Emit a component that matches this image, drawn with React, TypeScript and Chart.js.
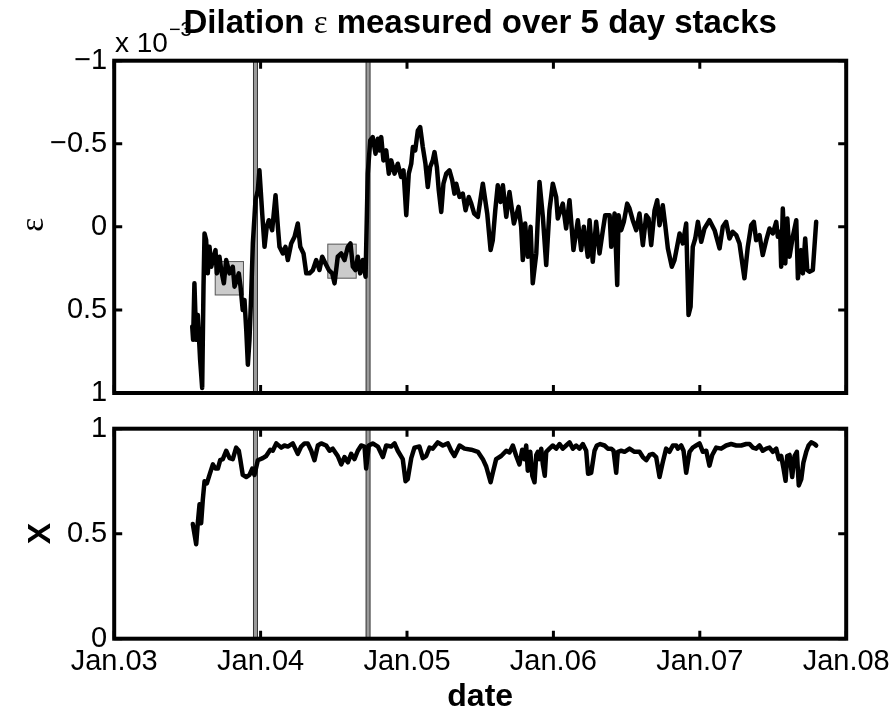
import React, { useEffect, useRef } from 'react';
import { Chart, registerables } from 'chart.js';

Chart.register(...registerables);

const FONT = '"Liberation Sans", Arial, Helvetica, sans-serif';
const SERIF = '"Liberation Serif", "DejaVu Serif", serif';

// ---- axis ticks ----
const yearTicks = [2003, 2004, 2005, 2006, 2007, 2008];
const yearTickLabels = ['Jan.03', 'Jan.04', 'Jan.05', 'Jan.06', 'Jan.07', 'Jan.08'];
const epsTicks = [-1, -0.5, 0, 0.5, 1];
const epsTickLabels = ['\u22121', '\u22120.5', '0', '0.5', '1'];
const xTicks = [0, 0.5, 1];
const xTickLabels = ['0', '0.5', '1'];

// ---- events (San Simeon, Parkfield) ----
const eventDates = [2003.965, 2004.734];

// ---- gray boxes in the dilation panel ----
const boxStarts = [2003.69, 2004.459];
const boxEnds = [2003.883, 2004.653];
const boxTops = [0.209, 0.104];
const boxBottoms = [0.41, 0.309];

// ---- dilation epsilon (x 10^-3) ----
const epsDates = [
  2003.533, 2003.539, 2003.548, 2003.560, 2003.571, 2003.587, 2003.601, 2003.610, 2003.617, 2003.628,
  2003.639, 2003.651, 2003.663, 2003.674, 2003.692, 2003.701, 2003.719, 2003.731, 2003.749, 2003.765,
  2003.788, 2003.810, 2003.822, 2003.837, 2003.851, 2003.863, 2003.878, 2003.890, 2003.902, 2003.913,
  2003.924, 2003.936, 2003.947, 2003.965, 2003.981, 2003.992, 2004.011, 2004.027, 2004.042, 2004.056,
  2004.079, 2004.102, 2004.118, 2004.129, 2004.152, 2004.170, 2004.186, 2004.209, 2004.232, 2004.254,
  2004.271, 2004.293, 2004.312, 2004.334, 2004.357, 2004.380, 2004.402, 2004.421, 2004.443, 2004.466,
  2004.489, 2004.505, 2004.527, 2004.551, 2004.573, 2004.596, 2004.614, 2004.630, 2004.648, 2004.664,
  2004.680, 2004.698, 2004.717, 2004.732, 2004.749, 2004.766, 2004.785, 2004.801, 2004.812, 2004.824,
  2004.839, 2004.858, 2004.876, 2004.892, 2004.915, 2004.937, 2004.960, 2004.976, 2004.995, 2005.012,
  2005.029, 2005.040, 2005.056, 2005.074, 2005.090, 2005.108, 2005.126, 2005.142, 2005.158, 2005.176,
  2005.188, 2005.204, 2005.217, 2005.234, 2005.249, 2005.268, 2005.290, 2005.309, 2005.324, 2005.336,
  2005.359, 2005.381, 2005.400, 2005.422, 2005.439, 2005.459, 2005.484, 2005.518, 2005.548, 2005.571,
  2005.586, 2005.603, 2005.620, 2005.639, 2005.655, 2005.678, 2005.700, 2005.730, 2005.762, 2005.780,
  2005.791, 2005.807, 2005.825, 2005.844, 2005.859, 2005.883, 2005.905, 2005.928, 2005.951, 2005.973,
  2005.996, 2006.019, 2006.030, 2006.064, 2006.087, 2006.110, 2006.137, 2006.167, 2006.190, 2006.208,
  2006.235, 2006.247, 2006.269, 2006.292, 2006.315, 2006.338, 2006.354, 2006.384, 2006.395, 2006.418,
  2006.436, 2006.445, 2006.463, 2006.481, 2006.504, 2006.520, 2006.542, 2006.566, 2006.588, 2006.611,
  2006.634, 2006.650, 2006.668, 2006.691, 2006.709, 2006.725, 2006.747, 2006.764, 2006.782, 2006.809,
  2006.827, 2006.862, 2006.884, 2006.907, 2006.923, 2006.937, 2006.952, 2006.969, 2006.987, 2007.010,
  2007.032, 2007.066, 2007.101, 2007.135, 2007.157, 2007.180, 2007.203, 2007.225, 2007.249, 2007.271,
  2007.305, 2007.328, 2007.351, 2007.369, 2007.385, 2007.408, 2007.430, 2007.454, 2007.476, 2007.499,
  2007.522, 2007.533, 2007.549, 2007.556, 2007.567, 2007.584, 2007.598, 2007.613, 2007.635, 2007.659,
  2007.670, 2007.693, 2007.704, 2007.720, 2007.734, 2007.749, 2007.772, 2007.795,
];
const epsValues = [
  0.60, 0.68, 0.34, 0.68, 0.53, 0.80, 0.97, 0.36, 0.04, 0.08,
  0.28, 0.12, 0.24, 0.20, 0.14, 0.28, 0.18, 0.26, 0.34, 0.20,
  0.28, 0.24, 0.36, 0.32, 0.28, 0.36, 0.50, 0.44, 0.62, 0.83,
  0.68, 0.40, 0.10, -0.16, -0.22, -0.34, -0.08, 0.12, 0.00, -0.04,
  0.02, -0.19, 0.00, 0.12, 0.16, 0.12, 0.20, 0.10, 0.06, -0.02,
  0.12, 0.16, 0.28, 0.28, 0.26, 0.20, 0.26, 0.18, 0.22, 0.26,
  0.28, 0.34, 0.18, 0.16, 0.20, 0.12, 0.10, 0.24, 0.26, 0.18,
  0.28, 0.20, 0.30, -0.32, -0.52, -0.54, -0.44, -0.53, -0.46, -0.54,
  -0.40, -0.46, -0.32, -0.40, -0.32, -0.38, -0.30, -0.34, -0.07, -0.32,
  -0.38, -0.48, -0.46, -0.58, -0.60, -0.48, -0.38, -0.24, -0.36, -0.40,
  -0.45, -0.36, -0.22, -0.09, -0.26, -0.32, -0.34, -0.28, -0.20, -0.26,
  -0.18, -0.20, -0.10, -0.18, -0.14, -0.08, -0.06, -0.26, -0.08, 0.14,
  0.08, -0.10, -0.25, -0.15, -0.25, -0.06, -0.21, -0.02, -0.12, 0.00,
  0.20, -0.02, 0.18, 0.00, 0.34, 0.16, -0.27, -0.06, 0.23, -0.10,
  -0.26, -0.18, -0.05, -0.14, 0.01, -0.16, 0.14, -0.04, 0.14, 0.00,
  0.18, -0.04, 0.21, -0.03, 0.16, 0.02, -0.07, -0.07, 0.12, -0.08,
  0.35, -0.07, 0.02, -0.03, -0.14, -0.11, -0.04, 0.02, -0.08, 0.11,
  -0.07, -0.05, 0.11, -0.10, -0.16, -0.01, -0.13, -0.01, 0.13, 0.24,
  0.20, 0.04, 0.10, -0.02, 0.53, 0.48, 0.12, 0.07, -0.03, 0.09,
  0.01, -0.04, 0.02, 0.13, 0.00, -0.03, 0.07, 0.03, 0.05, 0.10,
  0.31, 0.12, -0.01, -0.03, 0.08, 0.05, 0.17, 0.08, 0.01, 0.04,
  -0.03, 0.06, 0.03, 0.24, -0.11, 0.22, -0.05, 0.18, 0.06, -0.04,
  0.31, 0.14, 0.28, 0.07, 0.26, 0.27, 0.26, -0.03,
];

// ---- X series ----
const xDates = [
  2003.537, 2003.560, 2003.571, 2003.583, 2003.594, 2003.605, 2003.617, 2003.633, 2003.651, 2003.674,
  2003.692, 2003.708, 2003.724, 2003.742, 2003.765, 2003.788, 2003.810, 2003.833, 2003.851, 2003.861,
  2003.878, 2003.902, 2003.924, 2003.943, 2003.958, 2003.981, 2004.015, 2004.038, 2004.066, 2004.083,
  2004.107, 2004.141, 2004.163, 2004.186, 2004.220, 2004.254, 2004.277, 2004.300, 2004.322, 2004.346,
  2004.368, 2004.391, 2004.414, 2004.448, 2004.471, 2004.493, 2004.527, 2004.551, 2004.573, 2004.596,
  2004.619, 2004.641, 2004.664, 2004.687, 2004.710, 2004.721, 2004.739, 2004.766, 2004.801, 2004.835,
  2004.858, 2004.892, 2004.915, 2004.937, 2004.971, 2004.990, 2005.005, 2005.029, 2005.051, 2005.085,
  2005.108, 2005.131, 2005.154, 2005.176, 2005.210, 2005.245, 2005.279, 2005.302, 2005.324, 2005.359,
  2005.393, 2005.439, 2005.484, 2005.518, 2005.541, 2005.571, 2005.586, 2005.609, 2005.643, 2005.678,
  2005.700, 2005.723, 2005.746, 2005.768, 2005.787, 2005.802, 2005.814, 2005.825, 2005.842, 2005.856,
  2005.871, 2005.883, 2005.894, 2005.905, 2005.917, 2005.928, 2005.941, 2005.951, 2005.973, 2005.996,
  2006.019, 2006.042, 2006.064, 2006.087, 2006.110, 2006.133, 2006.156, 2006.178, 2006.201, 2006.224,
  2006.237, 2006.258, 2006.281, 2006.297, 2006.320, 2006.349, 2006.372, 2006.395, 2006.411, 2006.429,
  2006.440, 2006.463, 2006.486, 2006.520, 2006.554, 2006.588, 2006.611, 2006.634, 2006.657, 2006.679,
  2006.702, 2006.725, 2006.747, 2006.770, 2006.793, 2006.816, 2006.839, 2006.850, 2006.873, 2006.889,
  2006.907, 2006.930, 2006.952, 2006.975, 2006.998, 2007.021, 2007.044, 2007.066, 2007.085, 2007.112,
  2007.146, 2007.180, 2007.214, 2007.249, 2007.283, 2007.317, 2007.340, 2007.362, 2007.385, 2007.408,
  2007.430, 2007.454, 2007.476, 2007.499, 2007.522, 2007.540, 2007.556, 2007.572, 2007.586, 2007.597,
  2007.613, 2007.631, 2007.647, 2007.663, 2007.676, 2007.693, 2007.708, 2007.727, 2007.743, 2007.761,
  2007.784, 2007.795,
];
const xValues = [
  0.546, 0.45, 0.55, 0.64, 0.55, 0.66, 0.75, 0.74, 0.78, 0.83,
  0.81, 0.81, 0.85, 0.855, 0.895, 0.86, 0.855, 0.91, 0.895, 0.855,
  0.78, 0.77, 0.78, 0.81, 0.78, 0.85, 0.86, 0.87, 0.90, 0.895,
  0.93, 0.91, 0.92, 0.915, 0.93, 0.88, 0.915, 0.93, 0.93, 0.895,
  0.85, 0.92, 0.93, 0.92, 0.895, 0.905, 0.87, 0.83, 0.865, 0.84,
  0.88, 0.855, 0.895, 0.92, 0.915, 0.81, 0.92, 0.93, 0.915, 0.865,
  0.92, 0.915, 0.93, 0.895, 0.855, 0.75, 0.76, 0.86, 0.91, 0.915,
  0.86, 0.87, 0.91, 0.905, 0.935, 0.92, 0.93, 0.895, 0.87, 0.92,
  0.905, 0.90, 0.89, 0.855, 0.82, 0.745, 0.79, 0.855, 0.87, 0.895,
  0.887, 0.92, 0.87, 0.83, 0.90, 0.855, 0.92, 0.80, 0.89, 0.776,
  0.745, 0.875, 0.89, 0.855, 0.905, 0.83, 0.776, 0.89, 0.905, 0.92,
  0.905, 0.927, 0.905, 0.92, 0.935, 0.905, 0.92, 0.905, 0.927, 0.895,
  0.785, 0.79, 0.895, 0.92, 0.927, 0.92, 0.905, 0.905, 0.895, 0.79,
  0.89, 0.895, 0.89, 0.905, 0.89, 0.89, 0.865, 0.85, 0.875, 0.88,
  0.865, 0.77, 0.84, 0.905, 0.89, 0.92, 0.92, 0.905, 0.92, 0.895,
  0.79, 0.89, 0.91, 0.92, 0.93, 0.89, 0.895, 0.824, 0.875, 0.91,
  0.905, 0.92, 0.927, 0.92, 0.92, 0.927, 0.927, 0.91, 0.905, 0.92,
  0.895, 0.905, 0.91, 0.89, 0.905, 0.855, 0.87, 0.81, 0.752, 0.87,
  0.875, 0.77, 0.87, 0.89, 0.73, 0.76, 0.84, 0.89, 0.92, 0.935,
  0.927, 0.92,
];

// ---- layout constants (pixels) ----
const TOP_H = 412;
const BOT_H = 299;
const AXIS_LEFT = 114.2;
const RIGHT_PAD = 893 - 846.2;

function drawEvents(ctx: CanvasRenderingContext2D, a: any, xs: any) {
  for (const d of eventDates) {
    const px = xs.getPixelForValue(d);
    ctx.fillStyle = '#333333';
    ctx.fillRect(px - 2.5, a.top, 5, a.bottom - a.top);
    ctx.fillStyle = '#9a9a9a';
    ctx.fillRect(px - 1.5, a.top, 3, a.bottom - a.top);
  }
}

function drawFrame(ctx: CanvasRenderingContext2D, a: any, xs: any, ys: any, yt: number[]) {
  ctx.strokeStyle = '#000';
  ctx.lineWidth = 3;
  const tl = 8;
  ctx.beginPath();
  for (const v of yearTicks) {
    const px = xs.getPixelForValue(v);
    ctx.moveTo(px, a.top); ctx.lineTo(px, a.top + tl);
    ctx.moveTo(px, a.bottom); ctx.lineTo(px, a.bottom - tl);
  }
  for (const v of yt) {
    const py = ys.getPixelForValue(v);
    ctx.moveTo(a.left, py); ctx.lineTo(a.left + tl, py);
    ctx.moveTo(a.right, py); ctx.lineTo(a.right - tl, py);
  }
  ctx.stroke();
  ctx.lineWidth = 4;
  ctx.strokeRect(a.left, a.top, a.right - a.left, a.bottom - a.top);
}

function rotatedText(ctx: CanvasRenderingContext2D, text: string, x: number, y: number, font: string) {
  ctx.save();
  ctx.translate(x, y);
  ctx.rotate(-Math.PI / 2);
  ctx.font = font;
  ctx.textAlign = 'center';
  ctx.textBaseline = 'alphabetic';
  ctx.fillStyle = '#000';
  ctx.fillText(text, 0, 0);
  ctx.restore();
}

const topPlugin = {
  id: 'topDeco',
  beforeDatasetsDraw(chart: any) {
    const { ctx, chartArea: a, scales } = chart;
    const xs = scales.x, ys = scales.y;
    ctx.save();
    for (let i = 0; i < boxStarts.length; i++) {
      const x0 = xs.getPixelForValue(boxStarts[i]);
      const x1 = xs.getPixelForValue(boxEnds[i]);
      const y0 = ys.getPixelForValue(boxTops[i]);
      const y1 = ys.getPixelForValue(boxBottoms[i]);
      ctx.fillStyle = '#cbcbcb';
      ctx.fillRect(x0, y0, x1 - x0, y1 - y0);
      ctx.strokeStyle = '#555';
      ctx.lineWidth = 1;
      ctx.strokeRect(x0, y0, x1 - x0, y1 - y0);
    }
    drawEvents(ctx, a, xs);
    ctx.restore();
  },
  afterDraw(chart: any) {
    const { ctx, chartArea: a, scales } = chart;
    ctx.save();
    drawFrame(ctx, a, scales.x, scales.y, epsTicks);
    ctx.fillStyle = '#000';
    ctx.textBaseline = 'alphabetic';
    ctx.textAlign = 'left';
    // exponent label
    ctx.font = `28px ${FONT}`;
    const base = 'x 10';
    ctx.fillText(base, 115, 52);
    const bw = ctx.measureText(base).width;
    ctx.font = `20px ${FONT}`;
    ctx.fillText('\u22123', 115 + bw + 1, 36);
    // title
    const parts = [
      { t: 'Dilation ', f: `bold 33px ${FONT}` },
      { t: '\u03b5', f: `33px ${SERIF}` },
      { t: ' measured over 5 day stacks', f: `bold 33px ${FONT}` },
    ];
    let total = 0;
    const widths = parts.map((p) => { ctx.font = p.f; const w = ctx.measureText(p.t).width; total += w; return w; });
    let cx = (a.left + a.right) / 2 - total / 2;
    parts.forEach((p, i) => { ctx.font = p.f; ctx.fillText(p.t, cx, 33); cx += widths[i]; });
    // y label
    rotatedText(ctx, '\u03b5', 43, (a.top + a.bottom) / 2 - 2, `33px ${SERIF}`);
    ctx.restore();
  },
};

const botPlugin = {
  id: 'botDeco',
  beforeDatasetsDraw(chart: any) {
    const { ctx, chartArea: a, scales } = chart;
    ctx.save();
    drawEvents(ctx, a, scales.x);
    ctx.restore();
  },
  afterDraw(chart: any) {
    const { ctx, chartArea: a, scales } = chart;
    ctx.save();
    drawFrame(ctx, a, scales.x, scales.y, xTicks);
    rotatedText(ctx, 'X', 50, (a.top + a.bottom) / 2, `bold 32px ${FONT}`);
    ctx.font = `bold 32px ${FONT}`;
    ctx.textAlign = 'center';
    ctx.textBaseline = 'alphabetic';
    ctx.fillStyle = '#000';
    ctx.fillText('date', (a.left + a.right) / 2, 706 - TOP_H);
    ctx.restore();
  },
};

function lineDataset(dates: number[], values: number[]) {
  return {
    data: dates.map((d, i) => ({ x: d, y: values[i] })),
    borderColor: '#000',
    borderWidth: 4.5,
    pointRadius: 0,
    tension: 0,
    fill: false,
    borderJoinStyle: 'round',
    borderCapStyle: 'round',
  };
}

export default function App() {
  const topRef = useRef<HTMLCanvasElement | null>(null);
  const botRef = useRef<HTMLCanvasElement | null>(null);

  useEffect(() => {
    const tickFont = { family: FONT, size: 29 };
    const top = new Chart(topRef.current as HTMLCanvasElement, {
      type: 'line',
      data: { datasets: [lineDataset(epsDates, epsValues) as any] },
      options: {
        responsive: false,
        animation: false,
        events: [],
        layout: { autoPadding: false, padding: { left: 0, top: 60.7, right: RIGHT_PAD, bottom: TOP_H - 393 } },
        plugins: { legend: { display: false }, tooltip: { enabled: false }, title: { display: false } },
        scales: {
          x: { type: 'linear', display: false, min: 2003, max: 2008 },
          y: {
            type: 'linear', min: -1, max: 1, reverse: true,
            grid: { display: false, drawTicks: false }, border: { display: false },
            afterBuildTicks: (s: any) => { s.ticks = epsTicks.map((v) => ({ value: v })); },
            afterFit: (s: any) => { s.width = AXIS_LEFT; s.paddingTop = 0; s.paddingBottom = 0; },
            ticks: {
              padding: 7, color: '#000', font: tickFont,
              callback: (v: any) => epsTickLabels[epsTicks.indexOf(Number(v))],
            },
          },
        },
      } as any,
      plugins: [topPlugin],
    });

    const bot = new Chart(botRef.current as HTMLCanvasElement, {
      type: 'line',
      data: { datasets: [lineDataset(xDates, xValues) as any] },
      options: {
        responsive: false,
        animation: false,
        events: [],
        layout: { autoPadding: false, padding: { left: 0, top: 428.7 - TOP_H, right: RIGHT_PAD, bottom: 0 } },
        plugins: { legend: { display: false }, tooltip: { enabled: false }, title: { display: false } },
        scales: {
          x: {
            type: 'linear', min: 2003, max: 2008,
            grid: { display: false, drawTicks: false }, border: { display: false },
            afterBuildTicks: (s: any) => { s.ticks = yearTicks.map((v) => ({ value: v })); },
            afterFit: (s: any) => { s.height = BOT_H - (638.7 - TOP_H); s.paddingLeft = 0; s.paddingRight = 0; },
            ticks: {
              padding: 6, maxRotation: 0, minRotation: 0, autoSkip: false, color: '#000', font: tickFont,
              callback: (v: any) => yearTickLabels[yearTicks.indexOf(Number(v))],
            },
          },
          y: {
            type: 'linear', min: 0, max: 1,
            grid: { display: false, drawTicks: false }, border: { display: false },
            afterBuildTicks: (s: any) => { s.ticks = xTicks.map((v) => ({ value: v })); },
            afterFit: (s: any) => { s.width = AXIS_LEFT; s.paddingTop = 0; s.paddingBottom = 0; },
            ticks: {
              padding: 7, color: '#000', font: tickFont,
              callback: (v: any) => xTickLabels[xTicks.indexOf(Number(v))],
            },
          },
        },
      } as any,
      plugins: [botPlugin],
    });

    return () => { top.destroy(); bot.destroy(); };
  }, []);

  return (
    <div style={{ position: 'absolute', left: 0, top: 0, width: 893, height: 711, background: '#ffffff', overflow: 'hidden' }}>
      <canvas ref={topRef} width={893} height={TOP_H} style={{ position: 'absolute', left: 0, top: 0 }} />
      <canvas ref={botRef} width={893} height={BOT_H} style={{ position: 'absolute', left: 0, top: TOP_H }} />
    </div>
  );
}
